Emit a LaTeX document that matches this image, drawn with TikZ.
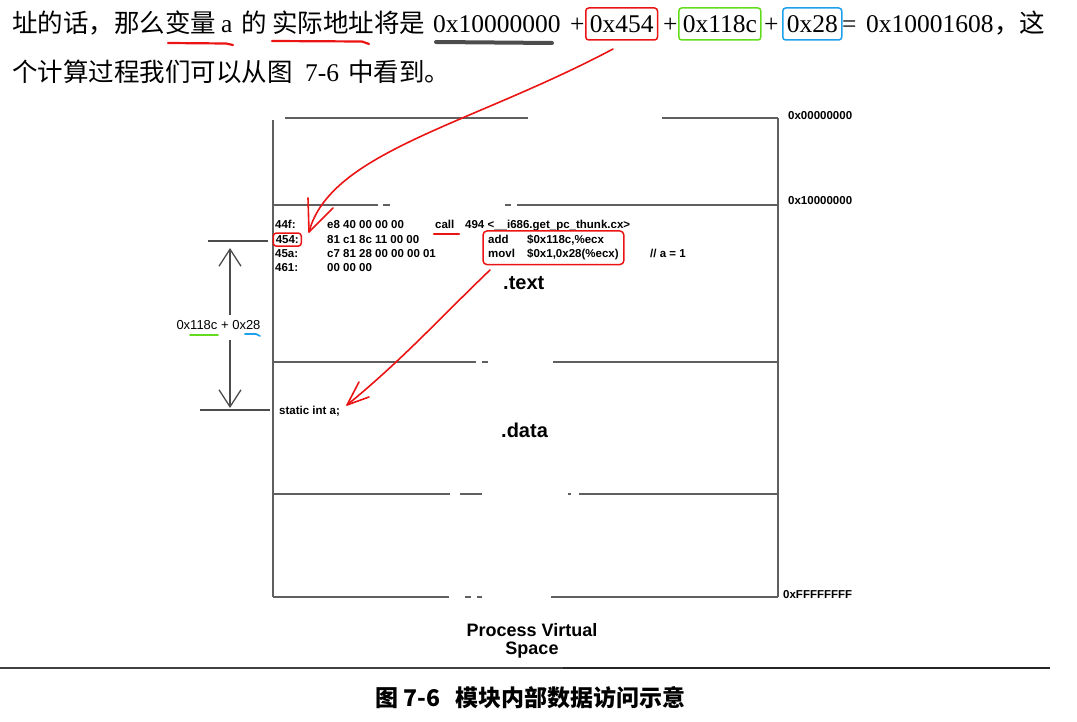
\documentclass[tikz,border=0pt]{standalone}
\usepackage{fontspec}
\setmainfont{Liberation Serif}
\setsansfont{Liberation Sans}
\newfontfamily\cjk{Noto Sans CJK SC}
\usepackage{xcolor}
\usetikzlibrary{arrows.meta,positioning,fit}
\definecolor{penred}{RGB}{235,20,20}
\definecolor{pengreen}{RGB}{100,220,30}
\definecolor{penblue}{RGB}{30,160,235}
\definecolor{scangray}{RGB}{95,95,95}

\begin{document}
\begin{tikzpicture}[
    x=1pt, y=-1pt,
    cjktext/.style={font=\cjk\fontsize{25.5}{30}\selectfont, inner sep=0, anchor=base west},
    lattext/.style={font=\fontsize{25.5}{30}\selectfont, inner sep=0, anchor=base west},
    markbox/.style={lattext, draw=#1, rounded corners=3, line width=1.5,
        inner xsep=4, inner ysep=3, text height=22, text depth=4},
    pen/.style={draw=penred, line width=1.6, line cap=round, line join=round},
    code/.style={font=\sffamily\bfseries\fontsize{11.5}{13}\selectfont, inner sep=0, anchor=base west},
    sect/.style={font=\sffamily\bfseries\fontsize{20}{24}\selectfont, inner sep=0, anchor=base west},
    scan/.style={draw=scangray, line width=1.2},
    dim/.style={draw=black!70, line width=1.3},
    dimtip/.style={-{Straight Barb[length=17pt,width=22pt,line width=1.3pt]}}]
\useasboundingbox (0,0) rectangle (1077,722);

% text above the figure
\node[cjktext] (l1a) at (12,33) {址的话，那么};
\node[cjktext] (l1b) at (165,33) {变量};
\node[lattext] (l1c) at (221,33) {a};
\node[cjktext] (l1d) at (241,33) {的};
\node[cjktext] (l1e) at (272,33) {实际地址将是};
\node[lattext] (base) at (433,33) {0x10000000};
\node[lattext] (p1) at (570,33) {+};
\node[markbox=penred] (off454) at (585,33) {0x454};
\node[lattext] (p2) at (663,33) {+};
\node[markbox=pengreen] (off118c) at (678,33) {0x118c};
\node[lattext] (p3) at (764,33) {+};
\node[markbox=penblue] (off28) at (782,33) {0x28};
\node[lattext] (eq) at (842,33) {=};
\node[lattext] (res) at (866,33) {0x10001608};
\node[cjktext] (l1f) at (994,33) {，这};
\node[cjktext] (l2a) at (12,82) {个计算过程我们可以从图};
\node[lattext] (l2b) at (305,82) {7-6};
\node[cjktext] (l2c) at (348,82) {中看到。};

\draw[pen, line width=2.2] (168,43) -- (226,43.5) -- (233,45);
\draw[pen, line width=2.2] (272,41) -- (362,41.5) -- (369,44);
\draw[draw=black!70, line width=4, line cap=round] (436,42) -- (552,43);

% process virtual space
\draw[scan] (273,120) -- (273,597);
\draw[scan] (778,118) -- (778,597);
\draw[scan] (285,118) -- (528,118);
\draw[scan] (662,118) -- (778,118);
\draw[scan] (273,205) -- (378,205);
\draw[scan] (383,205) -- (390,205);
\draw[scan] (505,205) -- (511,205);
\draw[scan] (517,205) -- (778,205);
\draw[scan] (273,362) -- (476,362);
\draw[scan] (482,362) -- (488,362);
\draw[scan] (553,362) -- (778,362);
\draw[scan] (273,494) -- (450,494);
\draw[scan] (460,494) -- (482,494);
\draw[scan] (568,494) -- (571,494);
\draw[scan] (579,494) -- (778,494);
\draw[scan] (273,597) -- (449,597);
\draw[scan] (465,597) -- (471,597);
\draw[scan] (477,597) -- (482,597);
\draw[scan] (551,597) -- (778,597);

\node[code] (addr0) at (788,120) {0x00000000};
\node[code] (addr1) at (788,205) {0x10000000};
\node[code] (addr2) at (783,598) {0xFFFFFFFF};

% code in .text
\node[code] (r1a) at (275,229) {44f:};
\node[code] (r1b) at (327,229) {e8 40 00 00 00};
\node[code] (r1c) at (435,229) {call};
\node[code] (r1d) at (465,229) {494 <\_\_i686.get\_pc\_thunk.cx>};
\node[code, draw=penred, rounded corners=3, line width=1.5, inner xsep=2.5, inner ysep=2.5]
    (r2a) at (272.5,243.5) {454:};
\node[code] (r2b) at (327,243.5) {81 c1 8c 11 00 00};
\node[code] (r2c) at (488,243.5) {add};
\node[code] (r2d) at (527,243.5) {\$0x118c,\%ecx};
\node[code] (r3a) at (275,258) {45a:};
\node[code] (r3b) at (327,258) {c7 81 28 00 00 00 01};
\node[code] (r3c) at (488,258) {movl};
\node[code] (r3d) at (527,258) {\$0x1,0x28(\%ecx)};
\node[code] (r3e) at (650,258) {// a = 1};
\node[code] (r4a) at (275,272) {461:};
\node[code] (r4b) at (327,272) {00 00 00};
\node[draw=penred, rounded corners=4, line width=1.5, inner xsep=5, inner ysep=4,
    fit=(r2c)(r3d)] (asmbox) {};
\draw[pen, line width=2.2] (r1c.south west) ++(-1,4.5) -- ++(25,0);

\node[sect] (text) at (503,290) {.text};
\node[code] (vara) at (279,414) {static int a;};
\node[sect] (data) at (501,437) {.data};

% offset between the two addresses
\coordinate (dimtop) at (230,241);
\coordinate (dimbot) at (230,410);
\draw[dim] (208,241) -- (268,241);
\draw[dim] (200,410) -- (270,410);
\node[font=\sffamily\fontsize{13}{15}\selectfont, inner sep=0, anchor=base]
    (dimlbl) at (218.5,330) {0x118c + 0x28};
\draw[dim, dimtip, shorten <=6pt, shorten >=7pt] (dimlbl.north -| dimtop) -- (dimtop);
\draw[dim, dimtip, shorten <=10pt, shorten >=2pt] (dimlbl.south -| dimbot) -- (dimbot);
\draw[draw=pengreen, line width=1.6, line cap=round] (190,335) -- (218,335);
\draw[draw=penblue, line width=1.6, line cap=round] (245,334) -- (256,334) -- (260,336);

% red hand strokes
\coordinate (startA) at (613,49);
\coordinate (tipA) at (309,232);
\draw[pen] (startA) .. controls (470,125) and (330,152) .. (tipA);
\draw[pen] (308,198) -- (tipA) -- (333,208);
\coordinate (startB) at (490,270);
\coordinate (tipB) at (347,405);
\draw[pen] (startB) .. controls (440,318) and (400,362) .. (tipB);
\draw[pen] (359,382) -- (tipB) -- (369,397);

% caption
\node[font=\sffamily\bfseries\fontsize{18}{20}\selectfont, inner sep=0, anchor=base]
    (cap1) at (532,636) {Process Virtual};
\node[font=\sffamily\bfseries\fontsize{18}{20}\selectfont, inner sep=0, anchor=base]
    (cap2) at (532,654) {Space};
\draw[draw=black!75, line width=1.6] (0,668) -- (563,668);
\draw[draw=black!85, line width=2.2] (563,668) -- (1050,668);
\node[font=\cjk\bfseries\fontsize{23}{26}\selectfont, inner sep=0, anchor=base west]
    (fignum) at (375,706) {图 7-6};
\node[font=\cjk\bfseries\fontsize{23}{26}\selectfont, inner sep=0, anchor=base west]
    (figtitle) at (455,706) {模块内部数据访问示意};
\end{tikzpicture}
\end{document}
